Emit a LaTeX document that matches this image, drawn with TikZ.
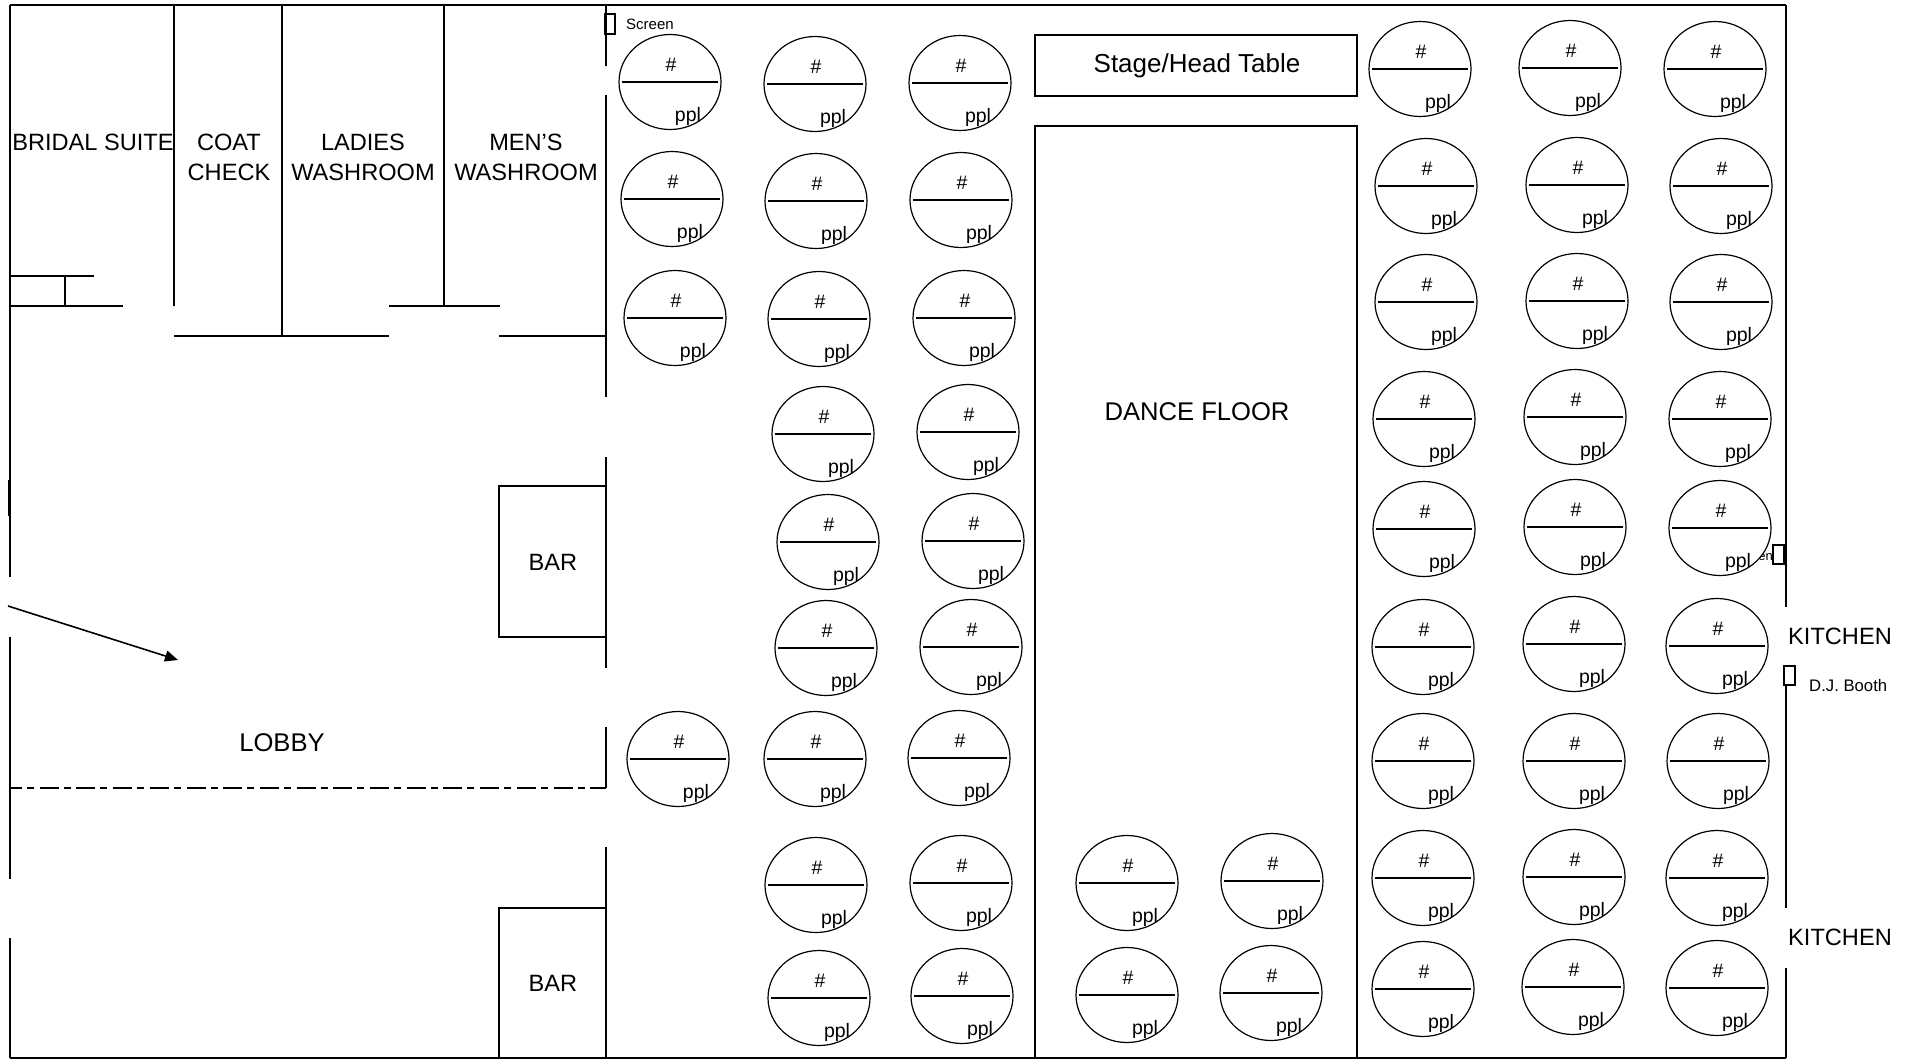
\documentclass[tikz,border=0pt]{standalone}
\usepackage{fontspec}
\setmainfont{Liberation Sans}
\usetikzlibrary{shapes.geometric,arrows.meta}
\tikzset{
  wall/.style={line width=2pt},
  entrance/.style={line width=1.6pt,-{Triangle[length=13pt,width=11pt]}},
  roomtext/.style={inner sep=0pt,align=center,font=\fontsize{23.6}{30}\selectfont},
  bigtext/.style={inner sep=0pt,font=\fontsize{25.6}{30}\selectfont},
  smalltext/.style={inner sep=0pt,font=\fontsize{15}{18}\selectfont},
  roundtable/.style={draw,fill=white,ellipse,inner sep=0pt,line width=1.2pt,minimum width=102pt,minimum height=95pt},
  tablemark/.style={inner sep=0pt,anchor=base,font=\fontsize{19.5}{22}\selectfont},
}
\newcommand{\tablenode}[3]{%
  \node (#1) [roundtable] at (#2,#3) {};
  \draw[line width=1.2pt,shorten <=4pt,shorten >=4pt] (#1.west) -- (#1.east);
  \node (#1n) [tablemark] at ([xshift=1pt,yshift=11pt]#1.center) {\#};
  \node (#1p) [tablemark] at ([xshift=18pt,yshift=-39pt]#1.center) {ppl};
}
\begin{document}
\begin{tikzpicture}[x=1pt,y=-1pt]
\useasboundingbox (0,0) rectangle (1910,1060);
% outer walls
\draw[wall] (10,5) -- (1786,5);
\draw[wall] (10,1058) -- (1786,1058);
\draw[wall] (10,5) -- (10,577);
\draw[line width=3pt] (9,480) -- (9,516);
\draw[wall] (10,637) -- (10,879);
\draw[wall] (10,938) -- (10,1058);
\draw[wall] (1786,5) -- (1786,607);
\draw[wall] (1786,685) -- (1786,908);
\draw[wall] (1786,968) -- (1786,1058);
% rooms
\draw[wall] (174,5) -- (174,306);
\draw[wall] (282,5) -- (282,336);
\draw[wall] (444,5) -- (444,306);
\draw[wall] (174,336) -- (389,336);
\draw[wall] (389,306) -- (500,306);
\draw[wall] (499,336) -- (606,336);
\draw[wall] (10,306) -- (123,306);
\draw[wall] (10,276) -- (94,276);
\draw[wall] (65,276) -- (65,307);
% hall wall
\draw[wall] (606,5) -- (606,66);
\draw[wall] (606,95) -- (606,397);
\draw[wall] (606,457) -- (606,668);
\draw[wall] (606,727) -- (606,788);
\draw[wall] (606,847) -- (606,1058);
\draw[wall,dash pattern=on 19pt off 5pt on 7pt off 5.7pt,dash phase=7pt] (10,788) -- (606,788);
\draw[wall] (499,486) rectangle (606,637);
\draw[wall] (499,908) rectangle (606,1058);
\draw[wall] (1035,35) rectangle (1357,96);
\draw[wall] (1035,1058) -- (1035,126) -- (1357,126) -- (1357,1058);
\draw[entrance] (8,606) -- (178,660);
% screens and booth
\draw[line width=1.1pt] (605,14) rectangle (615,34);
\draw[line width=1.1pt] (1773,545) rectangle (1784,564);
\draw[line width=1.1pt] (1784,666) rectangle (1795,685);
\node (screenA) [smalltext,anchor=west] at (626,24) {Screen};
\node (screenB) [smalltext,anchor=east,font=\fontsize{13}{16}\selectfont] at (1773,557) {en};
\node (booth) [smalltext,anchor=west,font=\fontsize{16.7}{20}\selectfont] at (1809,686) {D.J. Booth};
% room labels
\node (bridal) [roomtext] at (93,142) {BRIDAL SUITE};
\node (coat) [roomtext] at (229,157) {COAT\\CHECK};
\node (ladies) [roomtext] at (363,157) {LADIES\\WASHROOM};
\node (mens) [roomtext] at (526,157) {MEN'S\\WASHROOM};
\node (barA) [roomtext] at (553,562) {BAR};
\node (barB) [roomtext] at (553,983) {BAR};
\node (lobby) [bigtext] at (282,743) {LOBBY};
\node (stage) [bigtext,font=\fontsize{26}{30}\selectfont] at (1197,66) {Stage/Head Table};
\node (dance) [bigtext] at (1197,412) {DANCE FLOOR};
\node (kitchenA) [roomtext] at (1840,636) {KITCHEN};
\node (kitchenB) [roomtext] at (1840,937) {KITCHEN};
% tables left of the dance floor
\tablenode{a1}{670}{82}
\tablenode{a2}{672}{199}
\tablenode{a3}{675}{318}
\tablenode{a4}{678}{759}
\tablenode{b1}{815}{84}
\tablenode{b2}{816}{201}
\tablenode{b3}{819}{319}
\tablenode{b4}{823}{434}
\tablenode{b5}{828}{542}
\tablenode{b6}{826}{648}
\tablenode{b7}{815}{759}
\tablenode{b8}{816}{885}
\tablenode{b9}{819}{998}
\tablenode{c1}{960}{83}
\tablenode{c2}{961}{200}
\tablenode{c3}{964}{318}
\tablenode{c4}{968}{432}
\tablenode{c5}{973}{541}
\tablenode{c6}{971}{647}
\tablenode{c7}{959}{758}
\tablenode{c8}{961}{883}
\tablenode{c9}{962}{996}
% tables on the dance floor
\tablenode{d1}{1127}{883}
\tablenode{d2}{1272}{881}
\tablenode{d3}{1127}{995}
\tablenode{d4}{1271}{993}
% tables right of the dance floor
\tablenode{e1}{1420}{69}
\tablenode{e2}{1426}{186}
\tablenode{e3}{1426}{302}
\tablenode{e4}{1424}{419}
\tablenode{e5}{1424}{529}
\tablenode{e6}{1423}{647}
\tablenode{e7}{1423}{761}
\tablenode{e8}{1423}{878}
\tablenode{e9}{1423}{989}
\tablenode{f1}{1570}{68}
\tablenode{f2}{1577}{185}
\tablenode{f3}{1577}{301}
\tablenode{f4}{1575}{417}
\tablenode{f5}{1575}{527}
\tablenode{f6}{1574}{644}
\tablenode{f7}{1574}{761}
\tablenode{f8}{1574}{877}
\tablenode{f9}{1573}{987}
\tablenode{g1}{1715}{69}
\tablenode{g2}{1721}{186}
\tablenode{g3}{1721}{302}
\tablenode{g4}{1720}{419}
\tablenode{g5}{1720}{528}
\tablenode{g6}{1717}{646}
\tablenode{g7}{1718}{761}
\tablenode{g8}{1717}{878}
\tablenode{g9}{1717}{988}
\end{tikzpicture}
\end{document}
